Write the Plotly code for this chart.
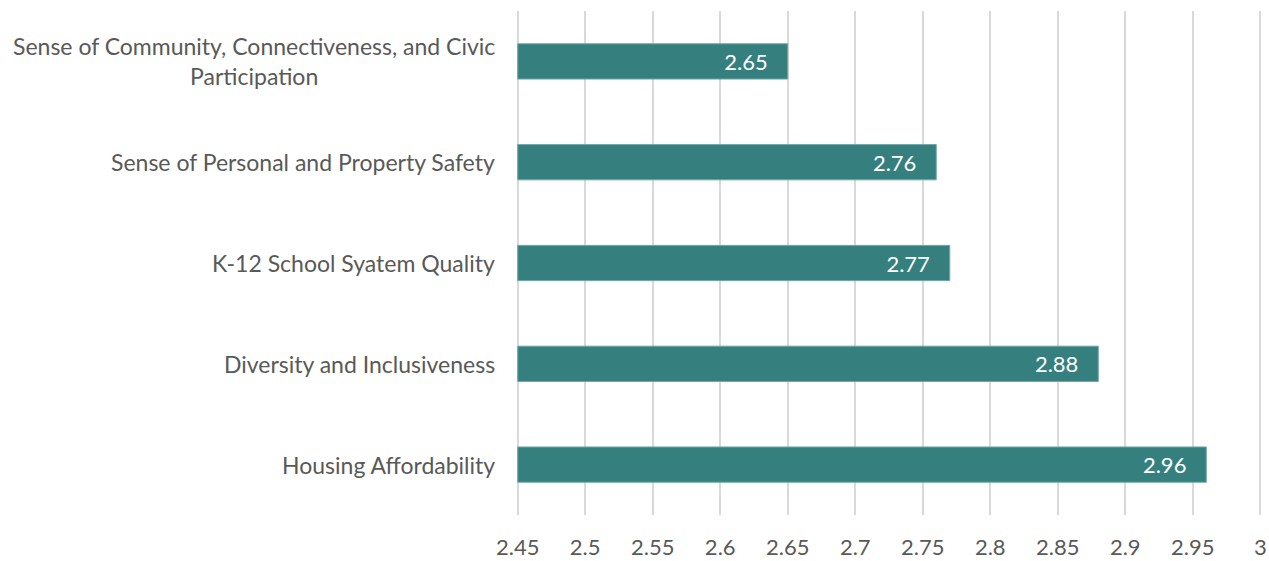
import plotly.graph_objects as go

categories = [
    "Sense of Community, Connectiveness, and Civic<br>Participation",
    "Sense of Personal and Property Safety",
    "K-12 School Syatem Quality",
    "Diversity and Inclusiveness",
    "Housing Affordability",
]
scores = [2.65, 2.76, 2.77, 2.88, 2.96]
axis_start = 2.45
tick_values = [2.45, 2.5, 2.55, 2.6, 2.65, 2.7, 2.75, 2.8, 2.85, 2.9, 2.95, 3]
tick_labels = ["2.45", "2.5", "2.55", "2.6", "2.65", "2.7", "2.75", "2.8", "2.85", "2.9", "2.95", "3"]

bar_color = "#35807F"
text_color = "#595959"
font_family = "Lato, Open Sans, sans-serif"

fig = go.Figure(
    go.Bar(
        x=[v - axis_start for v in scores],
        y=categories,
        orientation="h",
        base=axis_start,
        width=0.35,
        marker=dict(color=bar_color, line=dict(color="#6FA8A7", width=1)),
        text=[f"{v:.2f}" for v in scores],
        texttemplate="%{text}   ",
        textposition="inside",
        insidetextanchor="end",
        textfont=dict(color="white", size=22, family=font_family),
        hoverinfo="skip",
    )
)

# category labels, centred per line and right-aligned against the plot
for cat in categories:
    fig.add_annotation(
        x=0, xref="paper", xanchor="right", xshift=-18,
        y=cat, yref="y", yanchor="middle",
        text=cat, showarrow=False, align="center",
        font=dict(size=23, color=text_color, family=font_family),
    )

fig.update_layout(
    width=1269,
    height=561,
    margin=dict(l=515, r=6, t=11, b=46),
    paper_bgcolor="white",
    plot_bgcolor="white",
    showlegend=False,
    font=dict(family=font_family, color=text_color, size=22),
)
fig.update_xaxes(
    # small padding so the gridlines at both ends are drawn
    range=[2.448, 3.002],
    tickvals=tick_values,
    ticktext=tick_labels,
    showgrid=True,
    gridcolor="#D9D9D9",
    gridwidth=1.5,
    zeroline=False,
    showline=False,
    ticks="",
    automargin=False,
    ticklabelstandoff=17,
    tickfont=dict(size=22, color=text_color),
)
fig.update_yaxes(
    categoryorder="array",
    categoryarray=categories[::-1],
    showgrid=False,
    showline=False,
    ticks="",
    showticklabels=False,
    automargin=False,
)

fig.write_html("out.html")
